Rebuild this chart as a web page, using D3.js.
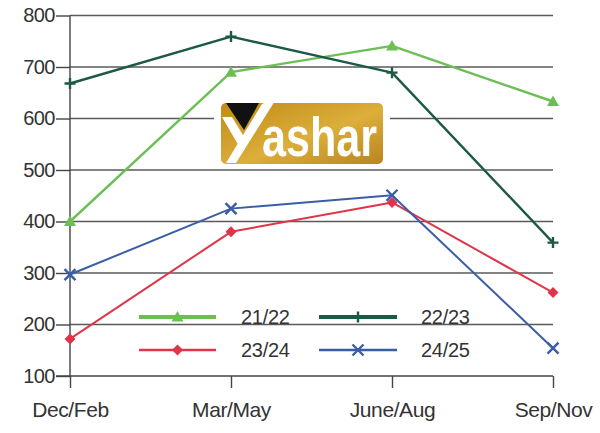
<!DOCTYPE html>
<html><head><meta charset="utf-8">
<script src="https://cdn.jsdelivr.net/npm/d3@7/dist/d3.min.js"></script>
<style>html,body{margin:0;padding:0;background:#fff;}svg{display:block;font-family:"Liberation Sans",Arial,sans-serif;}</style>
</head><body>
<svg id="c" width="600" height="433"></svg>
<script>
const categories = ["Dec/Feb","Mar/May","June/Aug","Sep/Nov"];
const s2122 = [400, 690, 741, 633];
const s2223 = [668, 759, 689, 359];
const s2324 = [172, 380, 437, 262];
const s2425 = [297, 425, 451, 154];
const yTicks = [100,200,300,400,500,600,700,800];
const seriesNames = ["21/22","22/23","23/24","24/25"];

const series = [
  {name:seriesNames[0], values:s2122, color:"#6dbf55", marker:"tri", w:2.4},
  {name:seriesNames[1], values:s2223, color:"#1d5a44", marker:"plus", w:2.4},
  {name:seriesNames[2], values:s2324, color:"#e03448", marker:"diamond", w:2},
  {name:seriesNames[3], values:s2425, color:"#3a5ea6", marker:"x", w:2}
];

const svg = d3.select("#c");
const x = d3.scalePoint().domain(categories).range([70,553]);
const y = d3.scaleLinear().domain([100,800]).range([376,15.5]);

// gridlines
svg.append("g").selectAll("line").data(yTicks.filter(d=>d>100)).join("line")
  .attr("x1",70).attr("x2",553).attr("y1",d=>y(d)).attr("y2",d=>y(d))
  .attr("stroke","#5a5a5a").attr("stroke-width",1.6);

// y axis
const ya = svg.append("g").attr("transform","translate(70,0)")
  .call(d3.axisLeft(y).tickValues(yTicks).tickSize(14).tickPadding(1).tickFormat(d3.format("d")));
ya.select(".domain").remove();
ya.selectAll(".tick line").attr("stroke","#444").attr("stroke-width",1.4);
ya.selectAll(".tick text").attr("font-size",20).attr("fill","#333").attr("font-family","Liberation Sans, Arial, sans-serif").attr("letter-spacing","-0.5");
svg.append("line").attr("x1",70).attr("x2",70).attr("y1",15.5).attr("y2",376).attr("stroke","#444").attr("stroke-width",1.4);

// x axis
const xa = svg.append("g").attr("transform","translate(0,376)")
  .call(d3.axisBottom(x).tickSize(12).tickPadding(14));
xa.select(".domain").remove();
xa.selectAll(".tick line").attr("stroke","#444").attr("stroke-width",1.4);
xa.selectAll(".tick text").attr("font-size",21).attr("fill","#333").attr("font-family","Liberation Sans, Arial, sans-serif").attr("letter-spacing","-0.4");
svg.append("line").attr("x1",56).attr("x2",553).attr("y1",376).attr("y2",376).attr("stroke","#444").attr("stroke-width",1.6);

// logo watermark
const defs = svg.append("defs");
const g1 = defs.append("linearGradient").attr("id","gold").attr("x1","0").attr("x2","1").attr("y1","0").attr("y2","1");
g1.append("stop").attr("offset","0").attr("stop-color","#c08a18");
g1.append("stop").attr("offset","0.55").attr("stop-color","#dcae3a");
g1.append("stop").attr("offset","1").attr("stop-color","#b98520");
const logo = svg.append("g");
logo.append("rect").attr("x",214).attr("y",97).attr("width",176).attr("height",70).attr("fill","#fff");
logo.append("rect").attr("x",221).attr("y",103).attr("width",162).attr("height",61).attr("rx",5).attr("fill","url(#gold)");
logo.append("path").attr("d","M226,103 L259,103 L244,130 Z").attr("fill","#111");
logo.append("path").attr("d","M278,96 L236,163 L226,163 L262,104 Z").attr("fill","#fff");
logo.append("path").attr("d","M222,117 L232,117 L246,140 L240,148 Z").attr("fill","#fff");
logo.append("text").attr("x",262).attr("y",156).attr("font-size",56).attr("font-weight","bold")
  .attr("fill","#fff").attr("textLength",115).attr("lengthAdjust","spacingAndGlyphs")
  .attr("font-family","Liberation Sans, Arial, sans-serif").text("ashar");

// markers
function drawMarker(g, type, cx, cy, color, s){
  if(type==="tri"){
    g.append("path").attr("d",`M${cx},${cy-s} L${cx+s},${cy+s*0.75} L${cx-s},${cy+s*0.75} Z`).attr("fill",color);
  } else if(type==="plus"){
    g.append("path").attr("d",`M${cx-s},${cy} L${cx+s},${cy} M${cx},${cy-s} L${cx},${cy+s}`).attr("stroke",color).attr("stroke-width",2.4);
  } else if(type==="diamond"){
    g.append("path").attr("d",`M${cx},${cy-s} L${cx+s},${cy} L${cx},${cy+s} L${cx-s},${cy} Z`).attr("fill",color);
  } else {
    g.append("path").attr("d",`M${cx-s},${cy-s} L${cx+s},${cy+s} M${cx-s},${cy+s} L${cx+s},${cy-s}`).attr("stroke",color).attr("stroke-width",2.4);
  }
}

const line = d3.line().x((d,i)=>x(categories[i])).y(d=>y(d));
series.forEach(s=>{
  const g = svg.append("g");
  g.append("path").attr("d",line(s.values)).attr("fill","none").attr("stroke",s.color).attr("stroke-width",s.w).attr("stroke-linejoin","round");
  s.values.forEach((v,i)=>drawMarker(g,s.marker,x(categories[i]),y(v),s.color, s.marker==="tri"?6:5.5));
});

// legend
const legPos = [
  {lx1:139,lx2:216,tx:241,y:317,w:4},
  {lx1:319,lx2:397,tx:421,y:317,w:4},
  {lx1:139,lx2:216,tx:241,y:350,w:2.6},
  {lx1:319,lx2:397,tx:421,y:350,w:2.6}
];
series.forEach((s,i)=>{
  const p = legPos[i];
  const g = svg.append("g");
  g.append("line").attr("x1",p.lx1).attr("x2",p.lx2).attr("y1",p.y).attr("y2",p.y).attr("stroke",s.color).attr("stroke-width",p.w);
  drawMarker(g,s.marker,(p.lx1+p.lx2)/2,p.y,s.color,s.marker==="tri"?6:5.5);
  g.append("text").attr("x",p.tx).attr("y",p.y+7).attr("font-size",20).attr("fill","#333")
    .attr("letter-spacing","-0.3").text(s.name);
});
</script>
</body></html>
